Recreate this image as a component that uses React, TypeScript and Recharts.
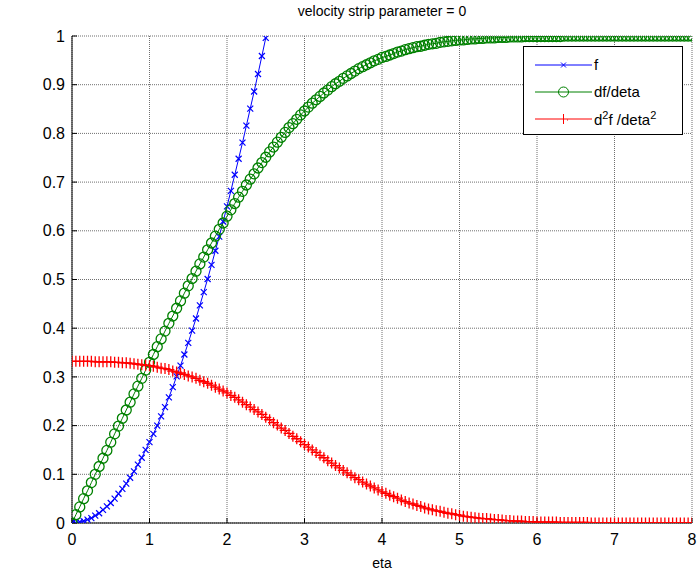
import React from "react";
import { CartesianGrid, Line, LineChart, XAxis, YAxis } from "recharts";

// eta grid (0 .. 8, step 0.05)
const eta = [
  0, 0.05, 0.1, 0.15, 0.2, 0.25, 0.3, 0.35, 0.4, 0.45,
  0.5, 0.55, 0.6, 0.65, 0.7, 0.75, 0.8, 0.85, 0.9, 0.95,
  1, 1.05, 1.1, 1.15, 1.2, 1.25, 1.3, 1.35, 1.4, 1.45,
  1.5, 1.55, 1.6, 1.65, 1.7, 1.75, 1.8, 1.85, 1.9, 1.95,
  2, 2.05, 2.1, 2.15, 2.2, 2.25, 2.3, 2.35, 2.4, 2.45,
  2.5, 2.55, 2.6, 2.65, 2.7, 2.75, 2.8, 2.85, 2.9, 2.95,
  3, 3.05, 3.1, 3.15, 3.2, 3.25, 3.3, 3.35, 3.4, 3.45,
  3.5, 3.55, 3.6, 3.65, 3.7, 3.75, 3.8, 3.85, 3.9, 3.95,
  4, 4.05, 4.1, 4.15, 4.2, 4.25, 4.3, 4.35, 4.4, 4.45,
  4.5, 4.55, 4.6, 4.65, 4.7, 4.75, 4.8, 4.85, 4.9, 4.95,
  5, 5.05, 5.1, 5.15, 5.2, 5.25, 5.3, 5.35, 5.4, 5.45,
  5.5, 5.55, 5.6, 5.65, 5.7, 5.75, 5.8, 5.85, 5.9, 5.95,
  6, 6.05, 6.1, 6.15, 6.2, 6.25, 6.3, 6.35, 6.4, 6.45,
  6.5, 6.55, 6.6, 6.65, 6.7, 6.75, 6.8, 6.85, 6.9, 6.95,
  7, 7.05, 7.1, 7.15, 7.2, 7.25, 7.3, 7.35, 7.4, 7.45,
  7.5, 7.55, 7.6, 7.65, 7.7, 7.75, 7.8, 7.85, 7.9, 7.95,
  8,
];

// f : only visible up to the top of the axes (eta ~ 2.5)
const fVals = [
  0, 0.0004, 0.002, 0.004, 0.007, 0.01, 0.015, 0.02, 0.027, 0.034,
  0.041, 0.05, 0.06, 0.07, 0.081, 0.093, 0.106, 0.12, 0.134, 0.15,
  0.166, 0.183, 0.2, 0.219, 0.238, 0.258, 0.279, 0.301, 0.323, 0.346,
  0.37, 0.395, 0.42, 0.447, 0.474, 0.501, 0.53, 0.559, 0.588, 0.619,
  0.65, 0.682, 0.715, 0.748, 0.781, 0.816, 0.851, 0.886, 0.922, 0.959,
  0.996,
];

const dfVals = [
  0, 0.017, 0.033, 0.05, 0.066, 0.083, 0.1, 0.116, 0.133, 0.149,
  0.166, 0.183, 0.199, 0.215, 0.232, 0.248, 0.265, 0.281, 0.297, 0.314,
  0.33, 0.346, 0.362, 0.378, 0.394, 0.41, 0.425, 0.441, 0.456, 0.472,
  0.487, 0.502, 0.517, 0.532, 0.546, 0.561, 0.575, 0.589, 0.603, 0.616,
  0.63, 0.643, 0.656, 0.669, 0.681, 0.694, 0.706, 0.717, 0.729, 0.74,
  0.751, 0.762, 0.772, 0.782, 0.792, 0.802, 0.812, 0.82, 0.829, 0.838,
  0.846, 0.854, 0.862, 0.869, 0.876, 0.883, 0.889, 0.896, 0.902, 0.907,
  0.913, 0.918, 0.923, 0.928, 0.933, 0.937, 0.941, 0.945, 0.949, 0.952,
  0.956, 0.958, 0.961, 0.964, 0.967, 0.969, 0.972, 0.974, 0.976, 0.978,
  0.979, 0.981, 0.983, 0.984, 0.985, 0.987, 0.988, 0.989, 0.99, 0.991,
  0.992, 0.992, 0.993, 0.994, 0.994, 0.995, 0.995, 0.996, 0.996, 0.996,
  0.997, 0.997, 0.997, 0.998, 0.998, 0.998, 0.998, 0.999, 0.999, 0.999,
  0.999, 0.999, 0.999, 0.999, 0.999, 0.999, 0.999, 1, 1, 1,
  1, 1, 1, 1, 1, 1, 1, 1, 1, 1,
  1, 1, 1, 1, 1, 1, 1, 1, 1, 1,
  1, 1, 1, 1, 1, 1, 1, 1, 1, 1,
  1,
];

const d2fVals = [
  0.332, 0.332, 0.332, 0.332, 0.332, 0.332, 0.331, 0.331, 0.331, 0.331,
  0.331, 0.33, 0.33, 0.329, 0.329, 0.328, 0.327, 0.326, 0.325, 0.324,
  0.323, 0.322, 0.32, 0.318, 0.317, 0.315, 0.312, 0.31, 0.308, 0.305,
  0.302, 0.3, 0.297, 0.293, 0.29, 0.287, 0.283, 0.279, 0.275, 0.271,
  0.267, 0.262, 0.258, 0.253, 0.248, 0.243, 0.238, 0.233, 0.228, 0.223,
  0.217, 0.212, 0.206, 0.201, 0.195, 0.19, 0.184, 0.178, 0.173, 0.167,
  0.161, 0.156, 0.15, 0.145, 0.139, 0.134, 0.128, 0.123, 0.118, 0.113,
  0.108, 0.103, 0.098, 0.093, 0.089, 0.084, 0.08, 0.076, 0.072, 0.068,
  0.064, 0.061, 0.057, 0.054, 0.051, 0.047, 0.044, 0.041, 0.039, 0.036,
  0.034, 0.031, 0.029, 0.027, 0.025, 0.024, 0.022, 0.02, 0.019, 0.017,
  0.016, 0.014, 0.013, 0.012, 0.011, 0.01, 0.009, 0.009, 0.008, 0.007,
  0.007, 0.006, 0.005, 0.005, 0.004, 0.004, 0.004, 0.003, 0.003, 0.003,
  0.002, 0.002, 0.002, 0.002, 0.002, 0.002, 0.001, 0.001, 0.001, 0.001,
  0.001, 0.001, 0.001, 0.001, 0, 0, 0, 0, 0, 0,
  0, 0, 0, 0, 0, 0, 0, 0, 0, 0,
  0, 0, 0, 0, 0, 0, 0, 0, 0, 0,
  0,
];

const xTicks = [0, 1, 2, 3, 4, 5, 6, 7, 8];
const yTicks = [0, 0.1, 0.2, 0.3, 0.4, 0.5, 0.6, 0.7, 0.8, 0.9, 1];

const data = eta.map((e, i) => ({
  eta: e,
  f: i < fVals.length ? fVals[i] : null,
  df: dfVals[i],
  d2f: d2fVals[i],
}));

const FONT = "'Liberation Sans', Arial, sans-serif";
const BLUE = "#0000ff";
const GREEN = "#008000";
const RED = "#ff0000";

function CrossDot(props: any) {
  const { cx, cy, index } = props;
  if (cx == null || cy == null) return <g key={`x${index}`} />;
  const s = 3;
  return (
    <path
      key={`x${index}`}
      d={`M${cx - s},${cy - s}L${cx + s},${cy + s}M${cx - s},${cy + s}L${cx + s},${cy - s}`}
      stroke={BLUE}
      strokeWidth={1.2}
      fill="none"
    />
  );
}

function CircleDot(props: any) {
  const { cx, cy, index } = props;
  if (cx == null || cy == null) return <g key={`o${index}`} />;
  return <circle key={`o${index}`} cx={cx} cy={cy} r={5} stroke={GREEN} strokeWidth={1.3} fill="none" />;
}

function PlusDot(props: any) {
  const { cx, cy, index } = props;
  if (cx == null || cy == null) return <g key={`p${index}`} />;
  const s = 5.5;
  return (
    <path
      key={`p${index}`}
      d={`M${cx - s},${cy}L${cx + s},${cy}M${cx},${cy - s}L${cx},${cy + s}`}
      stroke={RED}
      strokeWidth={1.3}
      fill="none"
    />
  );
}

function LegendBox() {
  const rows = [
    { color: BLUE, label: <>f</>, kind: "x" },
    { color: GREEN, label: <>df/deta</>, kind: "o" },
    {
      color: RED,
      label: (
        <>
          d<sup style={{ fontSize: 11 }}>2</sup>f /deta<sup style={{ fontSize: 11 }}>2</sup>
        </>
      ),
      kind: "+",
    },
  ];
  return (
    <div
      style={{
        position: "absolute",
        top: 46,
        left: 523,
        width: 160,
        height: 89,
        border: "1px solid #000",
        background: "#fff",
        fontFamily: FONT,
        fontSize: 15,
        color: "#000",
        boxSizing: "border-box",
        paddingTop: 4,
      }}
    >
      {rows.map((r, i) => (
        <div key={i} style={{ display: "flex", alignItems: "center", height: 27 }}>
          <svg width={74} height={20} style={{ marginLeft: 10 }}>
            <line x1={1} y1={10} x2={58} y2={10} stroke={r.color} strokeWidth={1} />
            {r.kind === "x" && (
              <path d="M27,7.5L32,12.5M27,12.5L32,7.5" stroke={r.color} fill="none" />
            )}
            {r.kind === "o" && <circle cx={29.5} cy={10} r={5} stroke={r.color} fill="none" />}
            {r.kind === "+" && <path d="M29.5,5L29.5,15M33,11L34,11" stroke={r.color} fill="none" />}
          </svg>
          <span style={{ marginLeft: -14, whiteSpace: "nowrap" }}>{r.label}</span>
        </div>
      ))}
    </div>
  );
}

const tickFont = { fontFamily: FONT, fontSize: 16, fill: "#000" };

export default function App() {
  return (
    <div style={{ position: "absolute", left: 0, top: 0, width: 697, height: 576, background: "#fff" }}>
      <LineChart
        width={697}
        height={576}
        data={data}
        margin={{ top: 36, right: 5, bottom: 27, left: 32 }}
        style={{ position: "absolute", left: 0, top: 0 }}
      >
        <CartesianGrid stroke="#6f6f6f" strokeDasharray="1 1" strokeWidth={1} />
        <XAxis
          dataKey="eta"
          type="number"
          domain={[0, 8]}
          ticks={xTicks}
          interval={0}
          height={26}
          stroke="#000"
          tickSize={-5}
          tickMargin={16}
          tick={tickFont}
          allowDataOverflow
        />
        <XAxis
          xAxisId="top"
          orientation="top"
          dataKey="eta"
          type="number"
          domain={[0, 8]}
          ticks={xTicks}
          interval={0}
          height={0}
          stroke="#000"
          tick={false}
          tickSize={-5}
        />
        <YAxis
          type="number"
          domain={[0, 1]}
          ticks={yTicks}
          interval={0}
          width={40}
          stroke="#000"
          tickSize={-5}
          tickMargin={12}
          tick={tickFont}
          allowDataOverflow
        />
        <YAxis
          yAxisId="right"
          orientation="right"
          type="number"
          domain={[0, 1]}
          ticks={yTicks}
          interval={0}
          width={0}
          stroke="#000"
          tick={false}
          tickSize={-5}
        />
        <Line
          dataKey="f"
          name="f"
          stroke={BLUE}
          strokeWidth={1}
          dot={<CrossDot />}
          activeDot={false}
          type="linear"
          connectNulls={false}
          isAnimationActive={false}
        />
        <Line
          dataKey="df"
          name="df/deta"
          stroke={GREEN}
          strokeWidth={1}
          dot={<CircleDot />}
          activeDot={false}
          type="linear"
          isAnimationActive={false}
        />
        <Line
          dataKey="d2f"
          name="d2f/deta2"
          stroke={RED}
          strokeWidth={1}
          dot={<PlusDot />}
          activeDot={false}
          type="linear"
          isAnimationActive={false}
        />
      </LineChart>
      <div
        style={{
          position: "absolute",
          top: 3,
          left: 72,
          width: 620,
          textAlign: "center",
          fontFamily: FONT,
          fontSize: 14,
          color: "#000",
        }}
      >
        velocity strip parameter = 0
      </div>
      <div
        style={{
          position: "absolute",
          top: 555,
          left: 72,
          width: 620,
          textAlign: "center",
          fontFamily: FONT,
          fontSize: 14,
          color: "#000",
        }}
      >
        eta
      </div>
      <LegendBox />
    </div>
  );
}
